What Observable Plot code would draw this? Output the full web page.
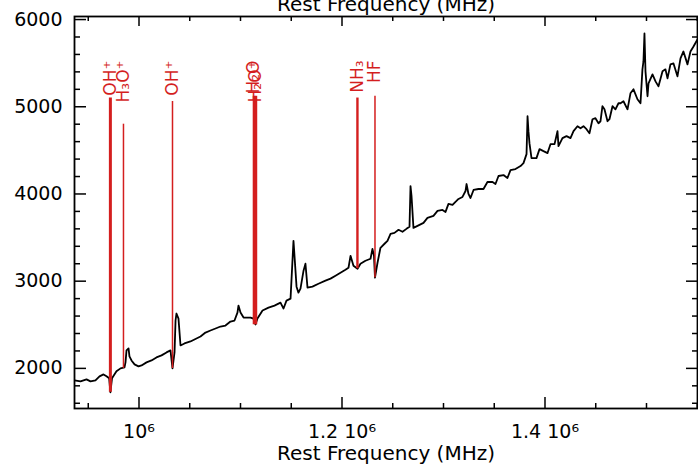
<!DOCTYPE html>
<html><head><meta charset="utf-8">
<script src="https://cdn.jsdelivr.net/npm/d3@7"></script>
<script src="https://cdn.jsdelivr.net/npm/@observablehq/plot@0.6"></script>
<style>body{margin:0;background:#fff}</style>
</head><body><div id="chart"></div>
<script>
// Spectrum: rest frequency (GHz) and intensity
const freqGHz = [
  936.5, 942.4, 948.3, 952.2, 957.1, 961.1, 965.0, 968.0, 970.6, 971.8,
  973.4, 977.8, 981.8, 985.7, 986.7, 987.7, 989.7, 990.6, 992.6, 995.6,
  999.5, 1002.5, 1007.4, 1012.3, 1017.2, 1022.2, 1027.1, 1031.0, 1033.0, 1035.0,
  1036.0, 1036.9, 1038.9, 1040.9, 1044.8, 1050.7, 1056.6, 1060.6, 1065.5, 1070.4,
  1075.4, 1080.3, 1085.2, 1090.1, 1094.1, 1097.0, 1098.0, 1100.0, 1103.0, 1105.9,
  1109.9, 1112.8, 1114.8, 1116.7, 1121.7, 1127.6, 1133.5, 1139.4, 1142.4, 1145.3,
  1149.3, 1152.2, 1153.2, 1155.2, 1157.1, 1159.1, 1162.1, 1164.0, 1166.0, 1170.9,
  1176.8, 1183.7, 1188.7, 1193.6, 1198.5, 1203.4, 1206.4, 1208.4, 1211.3, 1215.3,
  1218.2, 1223.1, 1228.1, 1230.0, 1231.5, 1232.5, 1235.0, 1237.9, 1241.9, 1244.8,
  1247.8, 1251.7, 1255.7, 1259.6, 1263.5, 1266.5, 1267.5, 1268.5, 1270.4, 1274.4,
  1280.3, 1284.2, 1290.1, 1294.1, 1299.0, 1302.0, 1304.9, 1308.9, 1311.8, 1314.8,
  1318.7, 1321.7, 1322.7, 1324.6, 1326.6, 1329.6, 1334.5, 1339.4, 1343.3, 1348.3,
  1351.2, 1354.2, 1359.1, 1363.0, 1366.0, 1370.9, 1375.9, 1378.8, 1381.8, 1382.8,
  1383.7, 1384.7, 1386.7, 1391.6, 1394.6, 1398.5, 1402.5, 1405.4, 1409.4, 1412.3,
  1413.3, 1417.2, 1421.2, 1425.1, 1428.1, 1432.0, 1435.0, 1437.9, 1440.9, 1443.8,
  1446.8, 1449.7, 1452.7, 1454.7, 1456.6, 1458.6, 1461.6, 1463.5, 1466.5, 1469.4,
  1472.4, 1474.4, 1477.3, 1481.3, 1484.2, 1487.2, 1491.1, 1494.1, 1496.0, 1497.0,
  1498.0, 1499.0, 1501.0, 1502.0, 1505.9, 1508.9, 1511.8, 1515.8, 1518.7, 1520.7,
  1523.6, 1526.6, 1530.5, 1533.5, 1536.4, 1540.4, 1543.3, 1546.3, 1550.2
];
const intensity = [
  1863, 1851, 1874, 1851, 1863, 1909, 1931, 1909, 1886, 1726,
  1886, 1966, 2000, 2011, 2069, 2206, 2229, 2137, 2091, 2046,
  2023, 2034, 2069, 2091, 2126, 2149, 2183, 2206, 2000, 2183,
  2549, 2629, 2571, 2263, 2286, 2309, 2343, 2366, 2411, 2434,
  2457, 2480, 2491, 2537, 2549, 2640, 2720, 2640, 2583, 2583,
  2583, 2571, 2503, 2571, 2663, 2697, 2720, 2754, 2686, 2777,
  2800, 3463, 3291, 2937, 2869, 2914, 3120, 3200, 2926, 2937,
  2971, 3006, 3029, 3063, 3097, 3131, 3154, 3291, 3177, 3143,
  3200, 3234, 3257, 3371, 3291, 3040, 3211, 3383, 3429, 3463,
  3543, 3554, 3589, 3566, 3600, 3623, 4091, 3977, 3611, 3634,
  3669, 3726, 3749, 3806, 3817, 3794, 3886, 3874, 3909, 3943,
  3966, 4034, 4114, 4000, 3954, 4046, 4057, 4057, 4137, 4137,
  4114, 4206, 4217, 4183, 4274, 4286, 4320, 4354, 4457, 4891,
  4720, 4583, 4411, 4411, 4514, 4491, 4469, 4571, 4571, 4720,
  4549, 4640, 4663, 4640, 4720, 4777, 4754, 4777, 4743, 4697,
  4857, 4869, 4811, 4834, 5006, 4971, 4834, 4857, 5006, 4971,
  5040, 5040, 5063, 4971, 5154, 5200, 5086, 5040, 5429, 5520,
  5840, 5406, 5120, 5269, 5371, 5291, 5234, 5406, 5429, 5326,
  5486, 5497, 5349, 5554, 5634, 5486, 5634, 5691, 5771
];

// Line identifications
const lineNames = ["OH⁺", "H₃O⁺", "OH⁺", "H₂O", "H₂O⁺", "NH₃", "HF"];
const lineFreqGHz = [971.8, 984.7, 1033.0, 1113.3, 1115.2, 1215.2, 1232.5];
const lineTop = [5100, 4800, 5060, 5120, 5120, 5100, 5120];
const lineBottom = [1726, 2000, 2000, 2500, 2500, 3143, 3040];

// Axis ticks
const xTickValues = [1.0e6, 1.2e6, 1.4e6];
const xTickLabels = ["10⁶", "1.2 10⁶", "1.4 10⁶"];
const xMinorTicks = [0.95e6, 1.05e6, 1.1e6, 1.15e6, 1.25e6, 1.3e6, 1.35e6, 1.45e6, 1.5e6, 1.55e6];
const yTickValues = [2000, 3000, 4000, 5000, 6000];
const yMinorTicks = [1600, 1800, 2200, 2400, 2600, 2800, 3200, 3400, 3600, 3800, 4200, 4400, 4600, 4800, 5200, 5400, 5600, 5800];
const axisTitle = "Rest Frequency (MHz)";

const spectrum = freqGHz.map((f, i) => ({f: f * 1000, v: intensity[i]}));
const lines = lineNames.map((n, i) => ({name: n, f: lineFreqGHz[i] * 1000, top: lineTop[i], bottom: lineBottom[i]}));
const lineWidths = [3, 1.5, 1.5, 2.6, 2.6, 2.4, 1.5];

const W = 698, H = 469, mL = 74, mR = 1, mT = 16, mB = 61;
const iW = W - mL - mR, iH = H - mT - mB;
const red = "#d41e1e";
const font = "DejaVu Sans";

const chart = Plot.plot({
  width: W, height: H,
  marginLeft: mL, marginRight: mR, marginTop: mT, marginBottom: mB,
  style: {fontFamily: font, background: "white"},
  x: {domain: [936450, 1550250], axis: null},
  y: {domain: [1540, 6035], axis: null},
  marks: [
    Plot.line(spectrum, {x: "f", y: "v", stroke: "black", strokeWidth: 1.8, clip: true}),
    Plot.ruleX(lines, {x: "f", y1: "top", y2: "bottom", stroke: red, strokeWidth: (d, i) => lineWidths[i]}),
    Plot.text(lines, {x: "f", text: "name", frameAnchor: "top", dy: 44, rotate: -90,
      textAnchor: "end", lineAnchor: "middle", fill: red, fontSize: 17, fontFamily: font}),
    // left ticks
    Plot.tickY(yTickValues, {y: d => d, insetRight: iW - 12, stroke: "black", strokeWidth: 1.5}),
    Plot.tickY(yMinorTicks, {y: d => d, insetRight: iW - 6, stroke: "black", strokeWidth: 1.5}),
    // right ticks
    Plot.tickY(yTickValues, {y: d => d, insetLeft: iW - 11, stroke: "black", strokeWidth: 1.5}),
    Plot.tickY(yMinorTicks, {y: d => d, insetLeft: iW - 5, stroke: "black", strokeWidth: 1.5}),
    // bottom ticks
    Plot.tickX(xTickValues, {x: d => d, insetTop: iH - 11, stroke: "black", strokeWidth: 1.5}),
    Plot.tickX(xMinorTicks, {x: d => d, insetTop: iH - 5, stroke: "black", strokeWidth: 1.5}),
    // top ticks
    Plot.tickX(xTickValues, {x: d => d, insetBottom: iH - 10, stroke: "black", strokeWidth: 1.5}),
    Plot.tickX(xMinorTicks, {x: d => d, insetBottom: iH - 5, stroke: "black", strokeWidth: 1.5}),
    Plot.frame({stroke: "black", strokeWidth: 1.8}),
    // tick labels
    Plot.text(yTickValues, {y: d => d, text: d => String(d), frameAnchor: "left", dx: -12,
      textAnchor: "end", lineAnchor: "middle", fontSize: 19, fill: "black"}),
    Plot.text(xTickValues, {x: d => d, text: (d, i) => xTickLabels[i], frameAnchor: "bottom", dy: 23,
      lineAnchor: "middle", fontSize: 19, fill: "black"}),
    // axis titles
    Plot.text([axisTitle], {text: d => d, frameAnchor: "bottom", dy: 45, lineAnchor: "middle", fontSize: 20, fill: "black"}),
    Plot.text([axisTitle], {text: d => d, frameAnchor: "top", dy: -6, lineAnchor: "bottom", fontSize: 20, fill: "black"})
  ]
});
document.getElementById("chart").appendChild(chart);
</script>
</body></html>
